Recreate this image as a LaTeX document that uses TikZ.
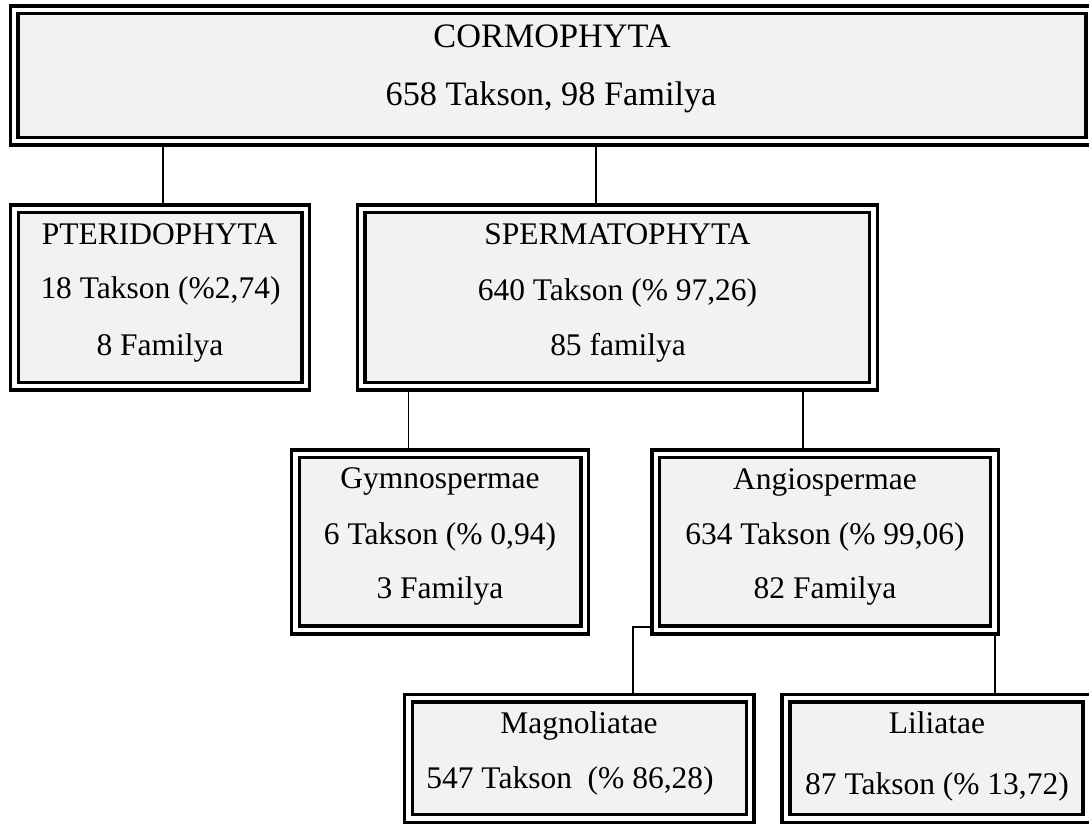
\documentclass[tikz,border=0pt]{standalone}
\usepackage{fontspec}
\setmainfont{Liberation Serif}
\usetikzlibrary{backgrounds}
\definecolor{boxfill}{HTML}{F2F2F2}
\begin{document}
\begin{tikzpicture}[x=1bp,y=-1bp,
  box/.style={rectangle, draw=black, line width=3.4bp, double=white, double distance=4.3bp, fill=boxfill, inner sep=0pt, outer sep=0pt},
  conn/.style={draw=black, line width=1.7bp},
  bigtxt/.style={font=\fontsize{34.4}{40}\selectfont, anchor=base, inner sep=0pt},
  txt/.style={font=\fontsize{31.6}{38}\selectfont, anchor=base, inner sep=0pt}]
\useasboundingbox (0,0) rectangle (1089,825);

% boxes
\node[box, minimum width=1075.8bp, minimum height=131.2bp] (corm) at (552.1,75.5) {};
\node[box, minimum width=291.4bp, minimum height=177.6bp] (pter) at (160.1,297.5) {};
\node[box, minimum width=512.3bp, minimum height=177.6bp] (sperm) at (617.4,297.5) {};
\node[box, minimum width=289.2bp, minimum height=176.2bp] (gym) at (440.1,541.9) {};
\node[box, minimum width=338.8bp, minimum height=176.2bp] (ang) at (825.1,541.9) {};
\node[box, minimum width=341.8bp, minimum height=120.3bp] (mag) at (579.4,758.4) {};
\node[box, minimum width=301bp, minimum height=120.3bp] (lil) at (936.5,758.4) {};

\coordinate (bend) at (632.7,627);

% connectors (behind the boxes)
\begin{pgfonlayer}{background}
\fill[white] (0,0) rectangle (1089,825);
\draw[conn] ([xshift=2.9bp]pter.north) -- ([xshift=2.9bp]pter.north |- corm.south);
\draw[conn] ([xshift=-21.4bp]sperm.north) -- ([xshift=-21.4bp]sperm.north |- corm.south);
\draw[conn] ([xshift=-31.6bp]gym.north) -- ([xshift=-31.6bp]gym.north |- sperm.south);
\draw[conn] ([xshift=-22.1bp]ang.north) -- ([xshift=-22.1bp]ang.north |- sperm.south);
\draw[conn] (ang.west |- bend) -- (bend) -- (bend |- mag.north);
\draw[conn] ([xshift=58.5bp]lil.north) -- ([xshift=58.5bp]lil.north |- ang.south);
\end{pgfonlayer}

% texts
\node[bigtxt] (c1) at (552,47) {CORMOPHYTA};
\node[bigtxt] (c2) at (551,105) {658 Takson, 98 Familya};

\node[txt] (p1) at (159.5,244) {PTERIDOPHYTA};
\node[txt] (p2) at (160.5,298) {18 Takson (\%2,74)};
\node[txt] (p3) at (160,355) {8 Familya};

\node[txt] (s1) at (617.5,244) {SPERMATOPHYTA};
\node[txt] (s2) at (617.5,300) {640 Takson (\% 97,26)};
\node[txt] (s3) at (618,355) {85 familya};

\node[txt] (g1) at (440,488) {Gymnospermae};
\node[txt] (g2) at (440,544) {6 Takson (\% 0,94)};
\node[txt] (g3) at (440,598) {3 Familya};

\node[txt] (a1) at (825,489) {Angiospermae};
\node[txt] (a2) at (825,544) {634 Takson (\% 99,06)};
\node[txt] (a3) at (825,598) {82 Familya};

\node[txt] (m1) at (579,733) {Magnoliatae};
\node[txt] (m2) at (570,788) {547 Takson\ \ (\% 86,28)};

\node[txt] (l1) at (937,733) {Liliatae};
\node[txt] (l2) at (937,794) {87 Takson (\% 13,72)};
\end{tikzpicture}
\end{document}
